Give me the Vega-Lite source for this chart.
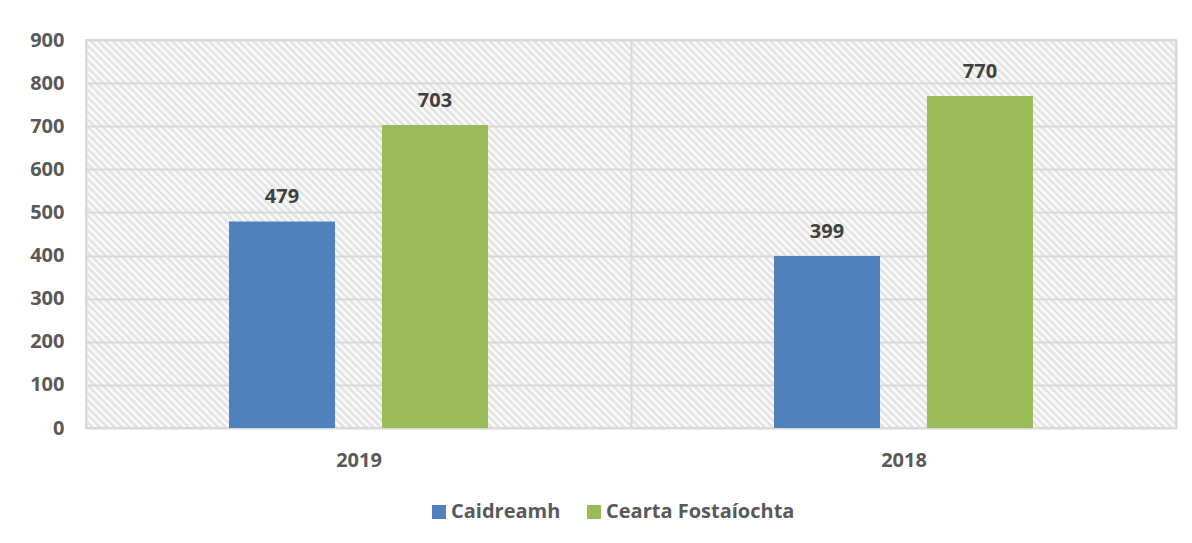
{
  "$schema": "https://vega.github.io/schema/vega-lite/v6.json",
  "width": 1090,
  "height": 388,
  "autosize": {"type": "none"},
  "padding": {"left": 86, "top": 40, "right": 16, "bottom": 115},
  "background": "white",
  "data": {
    "values": [
      {"year": "2019", "series": "Caidreamh", "value": 479},
      {"year": "2019", "series": "Cearta Fostaíochta", "value": 703},
      {"year": "2018", "series": "Caidreamh", "value": 399},
      {"year": "2018", "series": "Cearta Fostaíochta", "value": 770}
    ]
  },
  "encoding": {
    "x": {
      "field": "year",
      "type": "nominal",
      "sort": ["2019", "2018"],
      "scale": {"paddingInner": 0, "paddingOuter": 0},
      "axis": {
        "title": null,
        "labelAngle": 0,
        "labelFont": "Open Sans",
        "labelFontSize": 20,
        "labelFontWeight": "bold",
        "labelColor": "#595959",
        "labelPadding": 22,
        "ticks": false,
        "domain": false,
        "grid": true,
        "tickBand": "extent",
        "gridColor": "#d9d9d9",
        "gridWidth": 2
      }
    },
    "xOffset": {
      "field": "series",
      "type": "nominal",
      "sort": ["Caidreamh", "Cearta Fostaíochta"],
      "scale": {"paddingInner": 0.307, "paddingOuter": 0.935}
    },
    "y": {
      "field": "value",
      "type": "quantitative",
      "scale": {"domain": [0, 900]},
      "axis": {
        "title": null,
        "values": [0, 100, 200, 300, 400, 500, 600, 700, 800, 900],
        "labelFont": "Open Sans",
        "labelFontSize": 20,
        "labelFontWeight": "bold",
        "labelColor": "#595959",
        "labelPadding": 22,
        "ticks": false,
        "domain": false,
        "gridColor": "#d9d9d9",
        "gridWidth": 2
      }
    }
  },
  "layer": [
    {
      "mark": {"type": "bar"},
      "encoding": {
        "color": {
          "field": "series",
          "type": "nominal",
          "sort": ["Caidreamh", "Cearta Fostaíochta"],
          "scale": {"range": ["#4f81bd", "#9bbb59"]},
          "legend": {
            "title": null,
            "orient": "none",
            "direction": "horizontal",
            "legendX": 343,
            "legendY": 462,
            "symbolType": "square",
            "symbolSize": 196,
            "symbolStrokeWidth": 0,
            "labelFont": "Open Sans",
            "labelFontSize": 20,
            "labelFontWeight": "bold",
            "labelColor": "#595959",
            "labelOffset": 2,
            "labelLimit": 400,
            "columnPadding": 23
          }
        }
      }
    },
    {
      "mark": {
        "type": "text",
        "baseline": "alphabetic",
        "dy": -18,
        "font": "Open Sans",
        "fontSize": 20,
        "fontWeight": "bold",
        "color": "#404040"
      },
      "encoding": {"text": {"field": "value", "type": "quantitative"}}
    }
  ],
  "config": {
    "view": {
      "stroke": "#d9d9d9",
      "strokeWidth": 2,
      "fill": {
        "gradient": "linear",
        "x1": 0, "y1": 1, "x2": 1.20347, "y2": 0.57161,
        "stops": [
{"offset":0,"color":"#dedede"},{"offset":0.0025,"color":"#fff"},{"offset":0.005,"color":"#dedede"},{"offset":0.0075,"color":"#fff"},
{"offset":0.01,"color":"#dedede"},{"offset":0.0125,"color":"#fff"},{"offset":0.015,"color":"#dedede"},{"offset":0.0175,"color":"#fff"},
{"offset":0.02,"color":"#dedede"},{"offset":0.0225,"color":"#fff"},{"offset":0.025,"color":"#dedede"},{"offset":0.0275,"color":"#fff"},
{"offset":0.03,"color":"#dedede"},{"offset":0.0325,"color":"#fff"},{"offset":0.035,"color":"#dedede"},{"offset":0.0375,"color":"#fff"},
{"offset":0.04,"color":"#dedede"},{"offset":0.0425,"color":"#fff"},{"offset":0.045,"color":"#dedede"},{"offset":0.0475,"color":"#fff"},
{"offset":0.05,"color":"#dedede"},{"offset":0.0525,"color":"#fff"},{"offset":0.055,"color":"#dedede"},{"offset":0.0575,"color":"#fff"},
{"offset":0.06,"color":"#dedede"},{"offset":0.0625,"color":"#fff"},{"offset":0.065,"color":"#dedede"},{"offset":0.0675,"color":"#fff"},
{"offset":0.07,"color":"#dedede"},{"offset":0.0725,"color":"#fff"},{"offset":0.075,"color":"#dedede"},{"offset":0.0775,"color":"#fff"},
{"offset":0.08,"color":"#dedede"},{"offset":0.0825,"color":"#fff"},{"offset":0.085,"color":"#dedede"},{"offset":0.0875,"color":"#fff"},
{"offset":0.09,"color":"#dedede"},{"offset":0.0925,"color":"#fff"},{"offset":0.095,"color":"#dedede"},{"offset":0.0975,"color":"#fff"},
{"offset":0.1,"color":"#dedede"},{"offset":0.1025,"color":"#fff"},{"offset":0.105,"color":"#dedede"},{"offset":0.1075,"color":"#fff"},
{"offset":0.11,"color":"#dedede"},{"offset":0.1125,"color":"#fff"},{"offset":0.115,"color":"#dedede"},{"offset":0.1175,"color":"#fff"},
{"offset":0.12,"color":"#dedede"},{"offset":0.1225,"color":"#fff"},{"offset":0.125,"color":"#dedede"},{"offset":0.1275,"color":"#fff"},
{"offset":0.13,"color":"#dedede"},{"offset":0.1325,"color":"#fff"},{"offset":0.135,"color":"#dedede"},{"offset":0.1375,"color":"#fff"},
{"offset":0.14,"color":"#dedede"},{"offset":0.1425,"color":"#fff"},{"offset":0.145,"color":"#dedede"},{"offset":0.1475,"color":"#fff"},
{"offset":0.15,"color":"#dedede"},{"offset":0.1525,"color":"#fff"},{"offset":0.155,"color":"#dedede"},{"offset":0.1575,"color":"#fff"},
{"offset":0.16,"color":"#dedede"},{"offset":0.1625,"color":"#fff"},{"offset":0.165,"color":"#dedede"},{"offset":0.1675,"color":"#fff"},
{"offset":0.17,"color":"#dedede"},{"offset":0.1725,"color":"#fff"},{"offset":0.175,"color":"#dedede"},{"offset":0.1775,"color":"#fff"},
{"offset":0.18,"color":"#dedede"},{"offset":0.1825,"color":"#fff"},{"offset":0.185,"color":"#dedede"},{"offset":0.1875,"color":"#fff"},
{"offset":0.19,"color":"#dedede"},{"offset":0.1925,"color":"#fff"},{"offset":0.195,"color":"#dedede"},{"offset":0.1975,"color":"#fff"},
{"offset":0.2,"color":"#dedede"},{"offset":0.2025,"color":"#fff"},{"offset":0.205,"color":"#dedede"},{"offset":0.2075,"color":"#fff"},
{"offset":0.21,"color":"#dedede"},{"offset":0.2125,"color":"#fff"},{"offset":0.215,"color":"#dedede"},{"offset":0.2175,"color":"#fff"},
{"offset":0.22,"color":"#dedede"},{"offset":0.2225,"color":"#fff"},{"offset":0.225,"color":"#dedede"},{"offset":0.2275,"color":"#fff"},
{"offset":0.23,"color":"#dedede"},{"offset":0.2325,"color":"#fff"},{"offset":0.235,"color":"#dedede"},{"offset":0.2375,"color":"#fff"},
{"offset":0.24,"color":"#dedede"},{"offset":0.2425,"color":"#fff"},{"offset":0.245,"color":"#dedede"},{"offset":0.2475,"color":"#fff"},
{"offset":0.25,"color":"#dedede"},{"offset":0.2525,"color":"#fff"},{"offset":0.255,"color":"#dedede"},{"offset":0.2575,"color":"#fff"},
{"offset":0.26,"color":"#dedede"},{"offset":0.2625,"color":"#fff"},{"offset":0.265,"color":"#dedede"},{"offset":0.2675,"color":"#fff"},
{"offset":0.27,"color":"#dedede"},{"offset":0.2725,"color":"#fff"},{"offset":0.275,"color":"#dedede"},{"offset":0.2775,"color":"#fff"},
{"offset":0.28,"color":"#dedede"},{"offset":0.2825,"color":"#fff"},{"offset":0.285,"color":"#dedede"},{"offset":0.2875,"color":"#fff"},
{"offset":0.29,"color":"#dedede"},{"offset":0.2925,"color":"#fff"},{"offset":0.295,"color":"#dedede"},{"offset":0.2975,"color":"#fff"},
{"offset":0.3,"color":"#dedede"},{"offset":0.3025,"color":"#fff"},{"offset":0.305,"color":"#dedede"},{"offset":0.3075,"color":"#fff"},
{"offset":0.31,"color":"#dedede"},{"offset":0.3125,"color":"#fff"},{"offset":0.315,"color":"#dedede"},{"offset":0.3175,"color":"#fff"},
{"offset":0.32,"color":"#dedede"},{"offset":0.3225,"color":"#fff"},{"offset":0.325,"color":"#dedede"},{"offset":0.3275,"color":"#fff"},
{"offset":0.33,"color":"#dedede"},{"offset":0.3325,"color":"#fff"},{"offset":0.335,"color":"#dedede"},{"offset":0.3375,"color":"#fff"},
{"offset":0.34,"color":"#dedede"},{"offset":0.3425,"color":"#fff"},{"offset":0.345,"color":"#dedede"},{"offset":0.3475,"color":"#fff"},
{"offset":0.35,"color":"#dedede"},{"offset":0.3525,"color":"#fff"},{"offset":0.355,"color":"#dedede"},{"offset":0.3575,"color":"#fff"},
{"offset":0.36,"color":"#dedede"},{"offset":0.3625,"color":"#fff"},{"offset":0.365,"color":"#dedede"},{"offset":0.3675,"color":"#fff"},
{"offset":0.37,"color":"#dedede"},{"offset":0.3725,"color":"#fff"},{"offset":0.375,"color":"#dedede"},{"offset":0.3775,"color":"#fff"},
{"offset":0.38,"color":"#dedede"},{"offset":0.3825,"color":"#fff"},{"offset":0.385,"color":"#dedede"},{"offset":0.3875,"color":"#fff"},
{"offset":0.39,"color":"#dedede"},{"offset":0.3925,"color":"#fff"},{"offset":0.395,"color":"#dedede"},{"offset":0.3975,"color":"#fff"},
{"offset":0.4,"color":"#dedede"},{"offset":0.4025,"color":"#fff"},{"offset":0.405,"color":"#dedede"},{"offset":0.4075,"color":"#fff"},
{"offset":0.41,"color":"#dedede"},{"offset":0.4125,"color":"#fff"},{"offset":0.415,"color":"#dedede"},{"offset":0.4175,"color":"#fff"},
{"offset":0.42,"color":"#dedede"},{"offset":0.4225,"color":"#fff"},{"offset":0.425,"color":"#dedede"},{"offset":0.4275,"color":"#fff"},
{"offset":0.43,"color":"#dedede"},{"offset":0.4325,"color":"#fff"},{"offset":0.435,"color":"#dedede"},{"offset":0.4375,"color":"#fff"},
{"offset":0.44,"color":"#dedede"},{"offset":0.4425,"color":"#fff"},{"offset":0.445,"color":"#dedede"},{"offset":0.4475,"color":"#fff"},
{"offset":0.45,"color":"#dedede"},{"offset":0.4525,"color":"#fff"},{"offset":0.455,"color":"#dedede"},{"offset":0.4575,"color":"#fff"},
{"offset":0.46,"color":"#dedede"},{"offset":0.4625,"color":"#fff"},{"offset":0.465,"color":"#dedede"},{"offset":0.4675,"color":"#fff"},
{"offset":0.47,"color":"#dedede"},{"offset":0.4725,"color":"#fff"},{"offset":0.475,"color":"#dedede"},{"offset":0.4775,"color":"#fff"},
{"offset":0.48,"color":"#dedede"},{"offset":0.4825,"color":"#fff"},{"offset":0.485,"color":"#dedede"},{"offset":0.4875,"color":"#fff"},
{"offset":0.49,"color":"#dedede"},{"offset":0.4925,"color":"#fff"},{"offset":0.495,"color":"#dedede"},{"offset":0.4975,"color":"#fff"},
{"offset":0.5,"color":"#dedede"},{"offset":0.5025,"color":"#fff"},{"offset":0.505,"color":"#dedede"},{"offset":0.5075,"color":"#fff"},
{"offset":0.51,"color":"#dedede"},{"offset":0.5125,"color":"#fff"},{"offset":0.515,"color":"#dedede"},{"offset":0.5175,"color":"#fff"},
{"offset":0.52,"color":"#dedede"},{"offset":0.5225,"color":"#fff"},{"offset":0.525,"color":"#dedede"},{"offset":0.5275,"color":"#fff"},
{"offset":0.53,"color":"#dedede"},{"offset":0.5325,"color":"#fff"},{"offset":0.535,"color":"#dedede"},{"offset":0.5375,"color":"#fff"},
{"offset":0.54,"color":"#dedede"},{"offset":0.5425,"color":"#fff"},{"offset":0.545,"color":"#dedede"},{"offset":0.5475,"color":"#fff"},
{"offset":0.55,"color":"#dedede"},{"offset":0.5525,"color":"#fff"},{"offset":0.555,"color":"#dedede"},{"offset":0.5575,"color":"#fff"},
{"offset":0.56,"color":"#dedede"},{"offset":0.5625,"color":"#fff"},{"offset":0.565,"color":"#dedede"},{"offset":0.5675,"color":"#fff"},
{"offset":0.57,"color":"#dedede"},{"offset":0.5725,"color":"#fff"},{"offset":0.575,"color":"#dedede"},{"offset":0.5775,"color":"#fff"},
{"offset":0.58,"color":"#dedede"},{"offset":0.5825,"color":"#fff"},{"offset":0.585,"color":"#dedede"},{"offset":0.5875,"color":"#fff"},
{"offset":0.59,"color":"#dedede"},{"offset":0.5925,"color":"#fff"},{"offset":0.595,"color":"#dedede"},{"offset":0.5975,"color":"#fff"},
{"offset":0.6,"color":"#dedede"},{"offset":0.6025,"color":"#fff"},{"offset":0.605,"color":"#dedede"},{"offset":0.6075,"color":"#fff"},
{"offset":0.61,"color":"#dedede"},{"offset":0.6125,"color":"#fff"},{"offset":0.615,"color":"#dedede"},{"offset":0.6175,"color":"#fff"},
{"offset":0.62,"color":"#dedede"},{"offset":0.6225,"color":"#fff"},{"offset":0.625,"color":"#dedede"},{"offset":0.6275,"color":"#fff"},
{"offset":0.63,"color":"#dedede"},{"offset":0.6325,"color":"#fff"},{"offset":0.635,"color":"#dedede"},{"offset":0.6375,"color":"#fff"},
{"offset":0.64,"color":"#dedede"},{"offset":0.6425,"color":"#fff"},{"offset":0.645,"color":"#dedede"},{"offset":0.6475,"color":"#fff"},
{"offset":0.65,"color":"#dedede"},{"offset":0.6525,"color":"#fff"},{"offset":0.655,"color":"#dedede"},{"offset":0.6575,"color":"#fff"},
{"offset":0.66,"color":"#dedede"},{"offset":0.6625,"color":"#fff"},{"offset":0.665,"color":"#dedede"},{"offset":0.6675,"color":"#fff"},
{"offset":0.67,"color":"#dedede"},{"offset":0.6725,"color":"#fff"},{"offset":0.675,"color":"#dedede"},{"offset":0.6775,"color":"#fff"},
{"offset":0.68,"color":"#dedede"},{"offset":0.6825,"color":"#fff"},{"offset":0.685,"color":"#dedede"},{"offset":0.6875,"color":"#fff"},
{"offset":0.69,"color":"#dedede"},{"offset":0.6925,"color":"#fff"},{"offset":0.695,"color":"#dedede"},{"offset":0.6975,"color":"#fff"},
{"offset":0.7,"color":"#dedede"},{"offset":0.7025,"color":"#fff"},{"offset":0.705,"color":"#dedede"},{"offset":0.7075,"color":"#fff"},
{"offset":0.71,"color":"#dedede"},{"offset":0.7125,"color":"#fff"},{"offset":0.715,"color":"#dedede"},{"offset":0.7175,"color":"#fff"},
{"offset":0.72,"color":"#dedede"},{"offset":0.7225,"color":"#fff"},{"offset":0.725,"color":"#dedede"},{"offset":0.7275,"color":"#fff"},
{"offset":0.73,"color":"#dedede"},{"offset":0.7325,"color":"#fff"},{"offset":0.735,"color":"#dedede"},{"offset":0.7375,"color":"#fff"},
{"offset":0.74,"color":"#dedede"},{"offset":0.7425,"color":"#fff"},{"offset":0.745,"color":"#dedede"},{"offset":0.7475,"color":"#fff"},
{"offset":0.75,"color":"#dedede"},{"offset":0.7525,"color":"#fff"},{"offset":0.755,"color":"#dedede"},{"offset":0.7575,"color":"#fff"},
{"offset":0.76,"color":"#dedede"},{"offset":0.7625,"color":"#fff"},{"offset":0.765,"color":"#dedede"},{"offset":0.7675,"color":"#fff"},
{"offset":0.77,"color":"#dedede"},{"offset":0.7725,"color":"#fff"},{"offset":0.775,"color":"#dedede"},{"offset":0.7775,"color":"#fff"},
{"offset":0.78,"color":"#dedede"},{"offset":0.7825,"color":"#fff"},{"offset":0.785,"color":"#dedede"},{"offset":0.7875,"color":"#fff"},
{"offset":0.79,"color":"#dedede"},{"offset":0.7925,"color":"#fff"},{"offset":0.795,"color":"#dedede"},{"offset":0.7975,"color":"#fff"},
{"offset":0.8,"color":"#dedede"},{"offset":0.8025,"color":"#fff"},{"offset":0.805,"color":"#dedede"},{"offset":0.8075,"color":"#fff"},
{"offset":0.81,"color":"#dedede"},{"offset":0.8125,"color":"#fff"},{"offset":0.815,"color":"#dedede"},{"offset":0.8175,"color":"#fff"},
{"offset":0.82,"color":"#dedede"},{"offset":0.8225,"color":"#fff"},{"offset":0.825,"color":"#dedede"},{"offset":0.8275,"color":"#fff"},
{"offset":0.83,"color":"#dedede"},{"offset":0.8325,"color":"#fff"},{"offset":0.835,"color":"#dedede"},{"offset":0.8375,"color":"#fff"},
{"offset":0.84,"color":"#dedede"},{"offset":0.8425,"color":"#fff"},{"offset":0.845,"color":"#dedede"},{"offset":0.8475,"color":"#fff"},
{"offset":0.85,"color":"#dedede"},{"offset":0.8525,"color":"#fff"},{"offset":0.855,"color":"#dedede"},{"offset":0.8575,"color":"#fff"},
{"offset":0.86,"color":"#dedede"},{"offset":0.8625,"color":"#fff"},{"offset":0.865,"color":"#dedede"},{"offset":0.8675,"color":"#fff"},
{"offset":0.87,"color":"#dedede"},{"offset":0.8725,"color":"#fff"},{"offset":0.875,"color":"#dedede"},{"offset":0.8775,"color":"#fff"},
{"offset":0.88,"color":"#dedede"},{"offset":0.8825,"color":"#fff"},{"offset":0.885,"color":"#dedede"},{"offset":0.8875,"color":"#fff"},
{"offset":0.89,"color":"#dedede"},{"offset":0.8925,"color":"#fff"},{"offset":0.895,"color":"#dedede"},{"offset":0.8975,"color":"#fff"},
{"offset":0.9,"color":"#dedede"},{"offset":0.9025,"color":"#fff"},{"offset":0.905,"color":"#dedede"},{"offset":0.9075,"color":"#fff"},
{"offset":0.91,"color":"#dedede"},{"offset":0.9125,"color":"#fff"},{"offset":0.915,"color":"#dedede"},{"offset":0.9175,"color":"#fff"},
{"offset":0.92,"color":"#dedede"},{"offset":0.9225,"color":"#fff"},{"offset":0.925,"color":"#dedede"},{"offset":0.9275,"color":"#fff"},
{"offset":0.93,"color":"#dedede"},{"offset":0.9325,"color":"#fff"},{"offset":0.935,"color":"#dedede"},{"offset":0.9375,"color":"#fff"},
{"offset":0.94,"color":"#dedede"},{"offset":0.9425,"color":"#fff"},{"offset":0.945,"color":"#dedede"},{"offset":0.9475,"color":"#fff"},
{"offset":0.95,"color":"#dedede"},{"offset":0.9525,"color":"#fff"},{"offset":0.955,"color":"#dedede"},{"offset":0.9575,"color":"#fff"},
{"offset":0.96,"color":"#dedede"},{"offset":0.9625,"color":"#fff"},{"offset":0.965,"color":"#dedede"},{"offset":0.9675,"color":"#fff"},
{"offset":0.97,"color":"#dedede"},{"offset":0.9725,"color":"#fff"},{"offset":0.975,"color":"#dedede"},{"offset":0.9775,"color":"#fff"},
{"offset":0.98,"color":"#dedede"},{"offset":0.9825,"color":"#fff"},{"offset":0.985,"color":"#dedede"},{"offset":0.9875,"color":"#fff"},
{"offset":0.99,"color":"#dedede"},{"offset":0.9925,"color":"#fff"},{"offset":0.995,"color":"#dedede"},{"offset":0.9975,"color":"#fff"},
{"offset":1,"color":"#dedede"}
        ]
      }
    }
  }
}
